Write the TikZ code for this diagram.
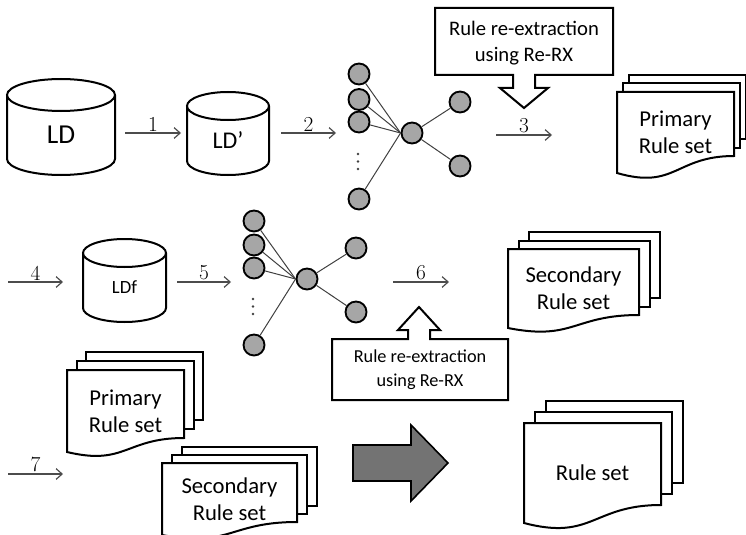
\documentclass[tikz,border=0pt]{standalone}
\usepackage{fontspec}
\newfontfamily\calfont{Carlito}
\usetikzlibrary{arrows.meta}

\begin{document}
\begin{tikzpicture}[
    x=0.75pt, y=0.75pt,
    db/.style={rectangle, draw=none, inner sep=0pt, outer sep=0pt},
    neuron/.style={circle, draw=black, line width=1.4pt, fill=gray!70, minimum size=15.75pt, inner sep=0pt},
    link/.style={draw=black!75, line width=0.75pt},
    flow/.style={-{Straight Barb[length=4.5pt, width=8pt]}, draw=black!70, line width=0.9pt},
    num/.style={font=\fontsize{16}{18}\selectfont, above, inner sep=1pt},
    wall/.style={draw=black, line width=1.5pt},
    page/.style={draw=black, line width=1.5pt, fill=white},
    doctext/.style={align=center, inner sep=0pt, font={\calfont\fontsize{17}{20}\selectfont}},
    callout/.style={draw=black, line width=1.5pt, fill=white},
    rxtext/.style={align=center, inner sep=0pt},
    merge/.style={draw=black, line width=1.2pt, fill=black!55}
  ]
    \useasboundingbox (0,0) rectangle (746,-535);

    % Databases
    \node[db, minimum width=81pt, minimum height=60pt, font={\calfont\fontsize{20.5}{24}\selectfont}] (LD) at (61,-135) {LD};
    \draw[wall] (LD.north west) -- ++(0,-64) arc[start angle=180, end angle=360, x radius=54, y radius=16] -- (LD.north east) arc[start angle=0, end angle=360, x radius=54, y radius=16];

    \node[db, minimum width=61.5pt, minimum height=51.75pt, font={\calfont\fontsize{18}{22}\selectfont}] (LDp) at (228,-140.5) {LD’};
    \draw[wall] (LDp.north west) -- ++(0,-55) arc[start angle=180, end angle=360, x radius=41, y radius=14] -- (LDp.north east) arc[start angle=0, end angle=360, x radius=41, y radius=14];

    \node[db, minimum width=62.25pt, minimum height=51.75pt, font={\calfont\fontsize{14}{17}\selectfont}] (LDf) at (124.5,-287.5) {LDf};
    \draw[wall] (LDf.north west) -- ++(0,-55) arc[start angle=180, end angle=360, x radius=41.5, y radius=14] -- (LDf.north east) arc[start angle=0, end angle=360, x radius=41.5, y radius=14];

    % First network
    \node[neuron] (i1) at (359,-74) {};
    \node[neuron] (i2) at (359,-99.5) {};
    \node[neuron] (i3) at (359,-122) {};
    \node[neuron] (i4) at (359,-199) {};
    \node[neuron] (h1) at (412,-133) {};
    \node[neuron] (o1) at (460,-102) {};
    \node[neuron] (o2) at (460,-166) {};
    \foreach \n in {i1,i2,i3,i4} \draw[link] (\n) -- (h1.west);
    \foreach \n in {o1,o2} \draw[link] (h1) -- (\n);
    \foreach \d in {0,1,2} \fill[black!75] (358,{-154-7.5*\d}) circle (1.4);

    % Second network
    \node[neuron] (j1) at (254,-221) {};
    \node[neuron] (j2) at (254,-245) {};
    \node[neuron] (j3) at (254,-268) {};
    \node[neuron] (j4) at (254,-345) {};
    \node[neuron] (h2) at (307,-279) {};
    \node[neuron] (q1) at (356,-248) {};
    \node[neuron] (q2) at (356,-312) {};
    \foreach \n in {j1,j2,j3,j4} \draw[link] (\n) -- (h2.west);
    \foreach \n in {q1,q2} \draw[link] (h2) -- (\n);
    \foreach \d in {0,1,2} \fill[black!75] (253,{-299-7.5*\d}) circle (1.4);

    % Numbered steps
    \foreach \n/\xa/\xb/\y in {1/125/181/133, 2/281/336/133, 3/496/552/135, 4/8/63/282, 5/177/231/282, 6/393/449/282, 7/8/63/474} {
      \coordinate (s\n) at (\xa,-\y);
      \coordinate (e\n) at (\xb,-\y);
      \draw[flow] (s\n) -- node[num] {\n} (e\n);
    }

    % Re-RX callouts
    \draw[callout] (435,-8) -- (613,-8) -- (613,-75) -- (535,-75) -- (535,-88) -- (548,-88) -- (524,-108) -- (500,-88) -- (513,-88) -- (513,-75) -- (435,-75) -- cycle;
    \node[rxtext, font={\calfont\fontsize{15.5}{20}\selectfont}] (rx1) at (524,-43) {Rule re-extraction\\using Re-RX};

    \draw[callout] (332,-339) -- (408,-339) -- (408,-330) -- (398,-330) -- (419,-307) -- (440,-330) -- (430,-330) -- (430,-339) -- (508,-339) -- (508,-400) -- (332,-400) -- cycle;
    \node[rxtext, font={\calfont\fontsize{13.7}{18}\selectfont}] (rx2) at (420,-370) {Rule re-extraction\\using Re-RX};

    % Rule sets
    \foreach \k in {2,1} \draw[page] ({617+6*\k},{-92+8.5*\k}) rectangle ++(117,-64);
    \draw[page] (617,-92) -- (734,-92) -- (734,-156) .. controls (675.5,-156) and (675.5,-190) .. (617,-173) -- cycle;
    \node[doctext] (prim1) at (675.5,-132.5) {Primary\\Rule set};

    \foreach \k in {2,1} \draw[page] ({508+10.5*\k},{-249+8.5*\k}) rectangle ++(131,-66);
    \draw[page] (508,-249) -- (639,-249) -- (639,-315) .. controls (573.5,-315) and (573.5,-341) .. (508,-328) -- cycle;
    \node[doctext] (sec1) at (573.5,-288.5) {Secondary\\Rule set};

    \foreach \k in {2,1} \draw[page] ({67+9.5*\k},{-370+9*\k}) rectangle ++(117,-68);
    \draw[page] (67,-370) -- (184,-370) -- (184,-438) .. controls (125.5,-438) and (125.5,-466) .. (67,-452) -- cycle;
    \node[doctext] (prim2) at (125.5,-411) {Primary\\Rule set};

    \foreach \k in {2,1} \draw[page] ({162+10*\k},{-463+8*\k}) rectangle ++(135,-59);
    \draw[page] (162,-463) -- (297,-463) -- (297,-522) .. controls (229.5,-522) and (229.5,-548) .. (162,-535) -- cycle;
    \node[doctext] (sec2) at (229.5,-499) {Secondary\\Rule set};

    % Merged result
    \draw[merge] (353,-445) -- (411,-445) -- (411,-425) -- (448,-463) -- (411,-501) -- (411,-481) -- (353,-481) -- cycle;

    \foreach \k in {2,1} \draw[page] ({524+11*\k},{-423+11*\k}) rectangle ++(137,-82);
    \draw[page] (524,-423) -- (661,-423) -- (661,-505) .. controls (592.5,-505) and (592.5,-541) .. (524,-523) -- cycle;
    \node[doctext] (rules) at (592.5,-473) {Rule set};

  \end{tikzpicture}
\end{document}
